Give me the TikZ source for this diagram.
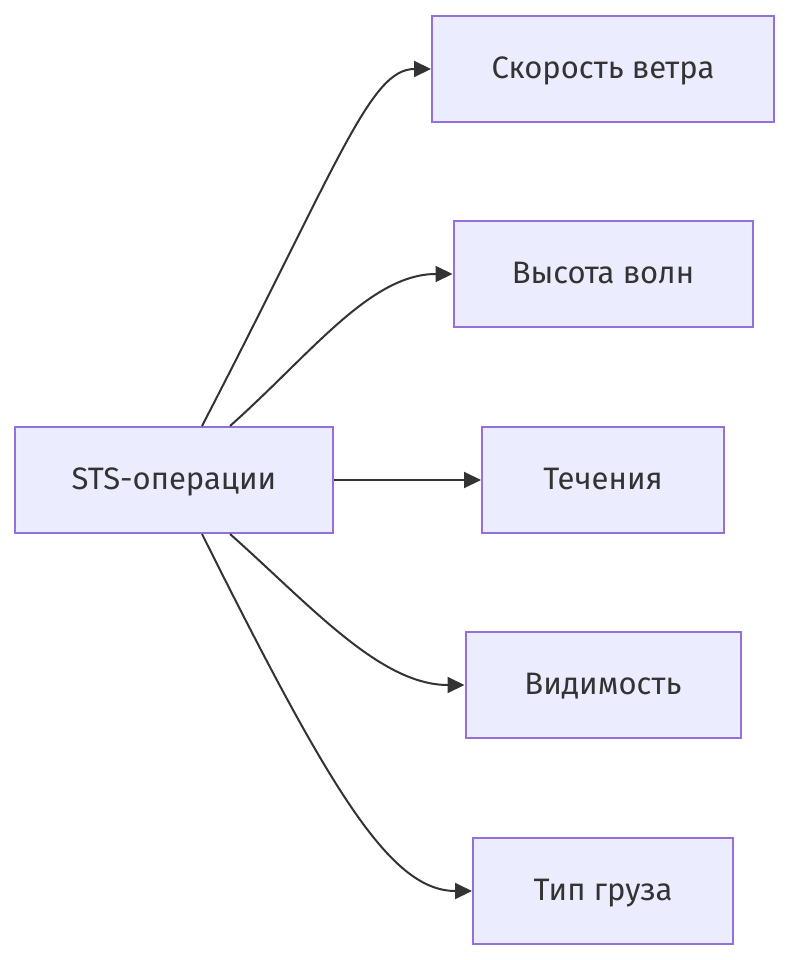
\documentclass[tikz,border=0pt]{standalone}
\usepackage{fontspec}
\setmainfont{Fira Sans}
\usepackage{tikz}
\usetikzlibrary{arrows.meta,positioning}
\definecolor{boxfill}{HTML}{ECECFF}
\definecolor{boxline}{HTML}{9370DB}
\definecolor{ink}{HTML}{333333}
\tikzset{
    %Define standard arrow tip
    >={Triangle[length=17pt,width=16pt]},
    %Define style for boxes
    factorbox/.style={
           rectangle,
           draw=boxline, line width=2pt,
           fill=boxfill,
           minimum height=106pt,
           text height=22pt,
           text depth=3pt,
           font=\fontsize{31}{36}\selectfont,
           text=ink,
           text centered},
    % Define arrow style
    link/.style={
           ->,
           draw=ink,
           line width=2pt}
}
\begin{document}
\begin{tikzpicture}[x=1pt,y=-1pt]
\useasboundingbox (0,0) rectangle (790,960);

 %nodes
\node[factorbox, minimum width=318pt](sts) at (174,480){STS-операции};
\node[factorbox, minimum width=342pt](wind) at (603,69){Скорость ветра};
\node[factorbox, minimum width=299pt](waves) at (603,274){Высота волн};
\node[factorbox, minimum width=242pt](current) at (603,480){Течения};
\node[factorbox, minimum width=275pt](sight) at (603,685){Видимость};
\node[factorbox, minimum width=260pt](cargo) at (603,891){Тип груза};

 %edges
\draw[link] ([xshift=28pt]sts.north) .. controls (340,160) and (370,69) .. (wind.west);
\draw[link] ([xshift=56pt]sts.north) .. controls (310,355) and (370,274) .. (waves.west);
\draw[link] (sts.east) -- (current.west);
\draw[link] ([xshift=56pt]sts.south) .. controls (310,605) and (380,685) .. (sight.west);
\draw[link] ([xshift=28pt]sts.south) .. controls (330,790) and (390,891) .. (cargo.west);

\end{tikzpicture}
\end{document}
